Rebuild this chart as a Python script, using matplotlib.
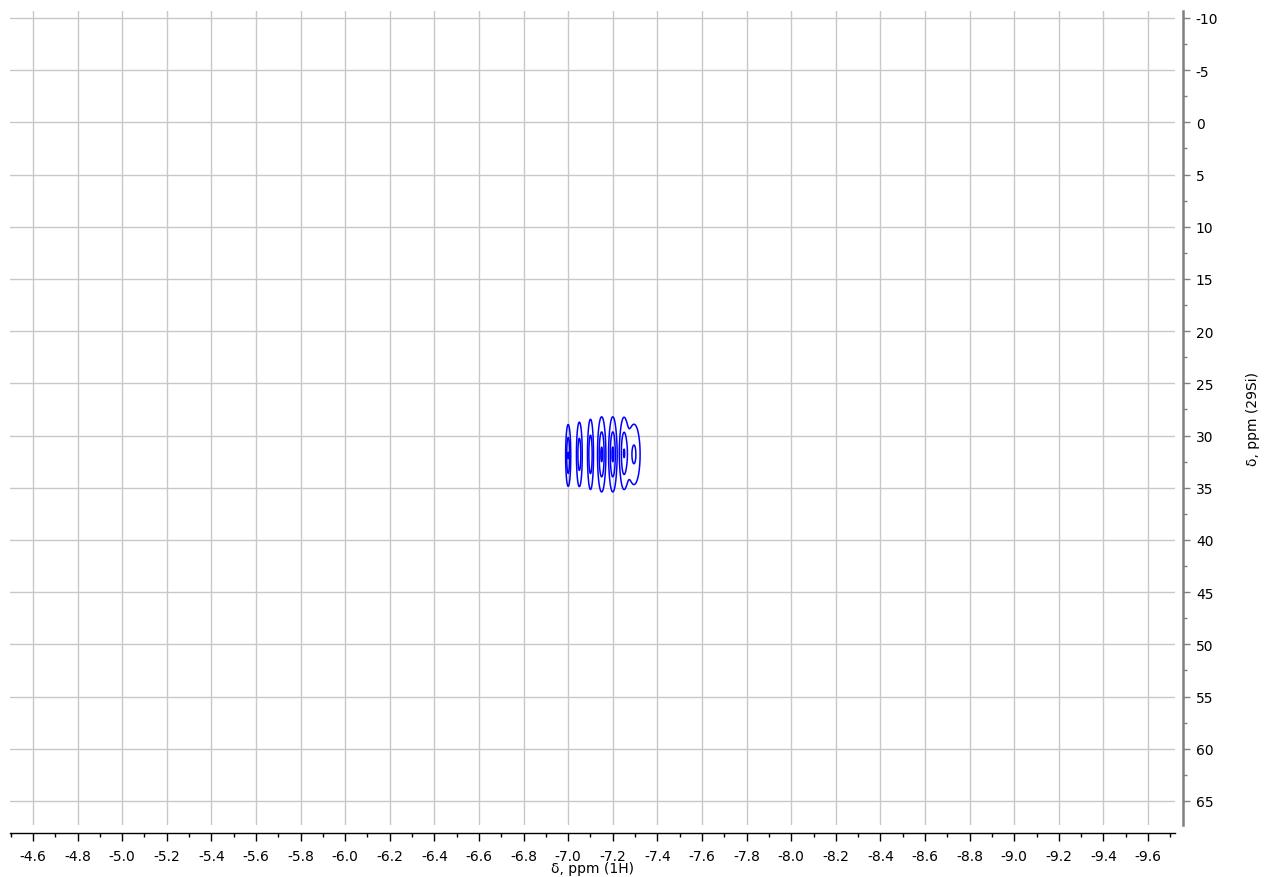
import numpy as np
import matplotlib.pyplot as plt
from matplotlib.ticker import MultipleLocator, FormatStrFormatter

plt.rcParams['font.family'] = 'DejaVu Sans'
plt.rcParams['axes.unicode_minus'] = False

# cross peaks: 1H shift, 29Si shift, intensity, widths (ppm)
PICO_H = [-7.00, -7.05, -7.10, -7.15, -7.20, -7.25, -7.295]
PICO_SI = [31.9, 31.8, 31.8, 31.8, 31.8, 31.7, 31.8]
INTENSIDAD = [1.25, 1.05, 1.15, 1.30, 1.30, 1.20, 0.85]
ANCHO_H = [0.0068, 0.0082, 0.0082, 0.0108, 0.0108, 0.012, 0.019]
ANCHO_SI = [1.75, 1.95, 2.05, 2.1, 2.1, 2.05, 2.0]
NIVELES = [0.3, 0.77, 1.23]

# spectrum reconstructed on a fine grid from the peak list
h = np.linspace(-6.9, -7.45, 700)
si = np.linspace(24, 40, 400)
H, SI = np.meshgrid(h, si)
Z = np.zeros_like(H)
for x0, y0, a, wx, wy in zip(PICO_H, PICO_SI, INTENSIDAD, ANCHO_H, ANCHO_SI):
    Z += a * np.exp(-0.5 * ((H - x0) / wx) ** 2 - 0.5 * ((SI - y0) / wy) ** 2)

fig = plt.figure(figsize=(12.64, 8.78), dpi=100)
ax = fig.add_axes([10 / 1264, 52 / 878, 1165 / 1264, 814 / 878])

ax.contour(H, SI, Z, levels=NIVELES, colors='#0000ff', linewidths=1.1)

ax.set_xlim(-4.497, -9.721)
ax.set_ylim(67.3, -10.67)

ax.xaxis.set_major_locator(MultipleLocator(0.2))
ax.xaxis.set_minor_locator(MultipleLocator(0.1))
ax.xaxis.set_major_formatter(FormatStrFormatter('%.1f'))
ax.yaxis.set_major_locator(MultipleLocator(5))
ax.yaxis.set_minor_locator(MultipleLocator(2.5))
ax.yaxis.set_major_formatter(FormatStrFormatter('%d'))

ax.yaxis.tick_right()
ax.yaxis.set_label_position('right')

ax.grid(True, which='major', color='#c8c8c8', linewidth=1.0)
ax.set_axisbelow(True)

for lado in ['top', 'left']:
    ax.spines[lado].set_visible(False)
ax.spines['bottom'].set_position(('outward', 6))
ax.spines['bottom'].set_color('black')
ax.spines['bottom'].set_linewidth(1.0)
ax.spines['right'].set_position(('outward', 6))
ax.spines['right'].set_color('#808080')
ax.spines['right'].set_linewidth(1.8)

ax.tick_params(axis='x', which='major', length=6, width=1, color='black', labelsize=10, pad=5)
ax.tick_params(axis='x', which='minor', length=3, width=1, color='black')
ax.tick_params(axis='y', which='major', length=5, width=1, color='#808080', labelsize=10, pad=4)
ax.tick_params(axis='y', which='minor', length=3, width=1, color='#808080')

ax.set_xlabel('δ, ppm (1H)', fontsize=10, labelpad=-1)
ax.set_ylabel('δ, ppm (29Si)', fontsize=10, labelpad=20)

fig.savefig('out.png', dpi=100)
